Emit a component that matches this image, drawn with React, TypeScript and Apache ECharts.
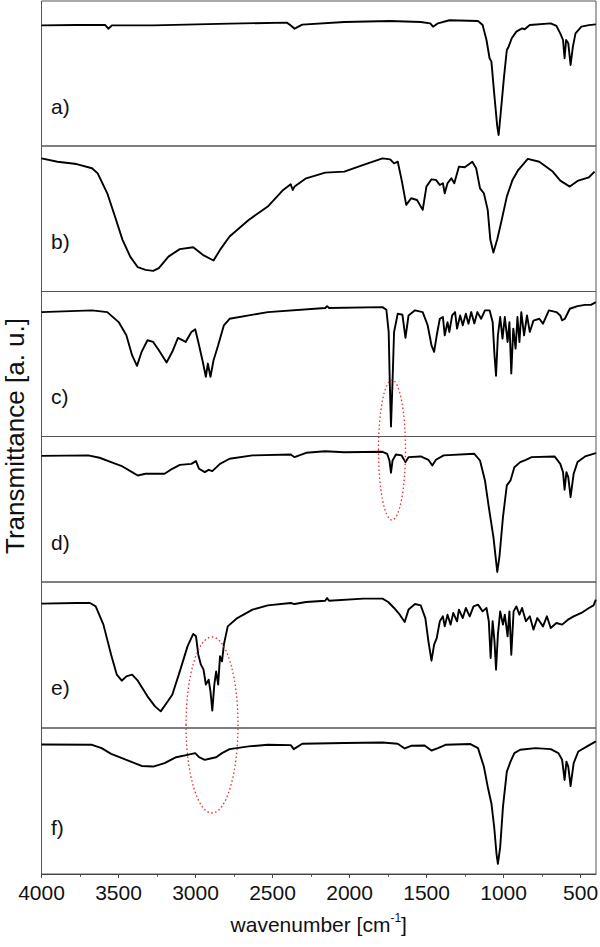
import React, { useEffect, useRef } from "react";
import * as echarts from "echarts";

// Tick labels of the shared wavenumber axis
const WN_TICKS = [4000, 3500, 3000, 2500, 2000, 1500, 1000, 500];
const WN_MINOR = [3750, 3250, 2750, 2250, 1750, 1250, 750];
const PANEL_LABELS = ["a)", "b)", "c)", "d)", "e)", "f)"];

// Spectra: [wavenumber (cm-1), transmittance (a.u., 0..100 of panel)]
const specA: [number, number][] = [
  [4000, 83.2], [3772, 83.4], [3586, 83.4], [3566, 80.9], [3543, 83.2], [3275, 83.2],
  [2779, 84.4], [2407, 85.1], [2377, 82.8], [2357, 80.9], [2307, 83.7], [2034, 85.5],
  [1736, 86.2], [1538, 85.5], [1476, 84.6], [1458, 82.3], [1426, 84.6], [1352, 86.7],
  [1166, 86.2], [1136, 83.4], [1111, 73.1], [1091, 60.5], [1079, 58.2], [1061, 36.3],
  [1041, 13.3], [1032, 7.6], [1017, 24.8], [997, 47.8], [979, 66.2], [967, 68.5],
  [947, 74.3], [917, 78.9], [880, 81.1], [863, 80.5], [830, 83.4], [694, 84.6],
  [657, 82.8], [632, 77.7], [614, 73.1], [604, 60.5], [594, 73.1], [580, 70.8],
  [565, 55.9], [550, 68.5], [533, 77.7], [495, 82.3], [446, 83.4], [401, 83.9],
];

const specB: [number, number][] = [
  [4000, 91.5], [3896, 89.2], [3772, 87.6], [3672, 84.7], [3635, 81.2], [3573, 67.5],
  [3523, 51.5], [3474, 35.5], [3424, 24.0], [3375, 16.7], [3325, 14.9], [3275, 14.2],
  [3238, 16.0], [3176, 24.0], [3102, 29.1], [3015, 30.4], [2953, 25.2], [2883, 21.3],
  [2841, 28.6], [2779, 37.8], [2655, 49.2], [2531, 58.4], [2431, 69.8], [2382, 73.7],
  [2369, 69.8], [2357, 72.1], [2282, 77.8], [2158, 81.7], [2034, 82.4], [1910, 87.0],
  [1786, 91.5], [1736, 90.8], [1711, 88.1], [1687, 89.2], [1662, 76.7], [1632, 59.5],
  [1600, 64.1], [1562, 62.9], [1525, 56.1], [1501, 72.1], [1468, 77.1], [1439, 76.7],
  [1414, 73.2], [1394, 74.4], [1382, 67.5], [1364, 74.4], [1339, 77.8], [1320, 74.4],
  [1290, 85.8], [1252, 85.4], [1203, 89.2], [1178, 84.7], [1153, 70.9], [1128, 67.5],
  [1103, 56.1], [1086, 35.5], [1066, 26.8], [1041, 35.9], [1017, 46.9], [979, 65.2],
  [942, 76.7], [905, 83.5], [843, 91.1], [768, 89.2], [681, 82.4], [632, 76.2],
  [570, 72.1], [520, 76.0], [446, 78.5], [409, 82.4],
];

const specC: [number, number][] = [
  [4000, 85.8], [3672, 87.0], [3573, 85.8], [3499, 78.9], [3449, 69.8], [3412, 56.1],
  [3380, 48.7], [3350, 58.4], [3312, 66.4], [3275, 65.2], [3238, 59.5], [3188, 51.0],
  [3151, 58.4], [3114, 68.0], [3064, 65.2], [3027, 72.1], [3002, 73.9], [2982, 65.2],
  [2953, 51.5], [2933, 41.2], [2920, 50.3], [2903, 41.2], [2883, 52.6], [2853, 62.9],
  [2816, 76.7], [2779, 81.2], [2531, 85.8], [2158, 88.6], [2146, 89.9], [2133, 88.6],
  [1786, 89.2], [1761, 87.4], [1746, 72.1], [1739, 37.8], [1731, 6.9], [1721, 37.8],
  [1711, 72.1], [1687, 84.7], [1657, 84.0], [1637, 68.0], [1617, 83.5], [1575, 87.0],
  [1525, 85.8], [1493, 76.7], [1468, 62.9], [1451, 58.4], [1434, 69.8], [1414, 81.2],
  [1394, 82.4], [1382, 69.8], [1364, 78.9], [1352, 72.1], [1334, 83.5], [1315, 85.8],
  [1302, 74.4], [1282, 83.5], [1265, 76.7], [1245, 84.7], [1228, 77.8], [1210, 85.8],
  [1190, 78.0], [1170, 85.8], [1146, 81.2], [1121, 87.0], [1091, 87.0], [1071, 78.9],
  [1059, 56.1], [1049, 41.9], [1037, 69.8], [1022, 82.4], [1007, 67.5], [992, 82.4],
  [974, 65.2], [962, 78.9], [950, 43.5], [937, 74.4], [922, 60.6], [910, 82.4],
  [897, 65.2], [885, 85.8], [867, 69.8], [848, 83.5], [830, 72.1], [806, 79.9],
  [768, 81.2], [744, 77.8], [706, 87.0], [657, 85.8], [632, 83.5], [620, 80.1],
  [602, 81.2], [570, 88.1], [520, 89.9], [471, 90.8], [433, 90.8], [401, 92.7],
];

const specD: [number, number][] = [
  [4000, 86.7], [3697, 87.0], [3623, 85.4], [3548, 82.4], [3474, 79.4], [3412, 75.5],
  [3375, 73.2], [3325, 74.4], [3201, 74.4], [3151, 77.8], [3102, 80.5], [3027, 81.2],
  [2997, 83.1], [2977, 77.8], [2940, 75.5], [2915, 77.1], [2891, 76.2], [2841, 81.2],
  [2779, 84.7], [2630, 87.0], [2382, 87.6], [2357, 85.8], [2282, 88.8], [2158, 89.9],
  [2034, 89.2], [1786, 89.5], [1756, 88.1], [1741, 83.5], [1731, 75.1], [1721, 83.5],
  [1699, 87.6], [1662, 87.0], [1637, 82.4], [1617, 85.8], [1538, 86.3], [1488, 84.0],
  [1463, 80.1], [1439, 84.0], [1389, 87.0], [1190, 88.1], [1153, 83.5], [1121, 69.8],
  [1096, 51.5], [1066, 30.9], [1041, 6.9], [1027, 17.2], [1004, 44.6], [979, 66.4],
  [955, 69.8], [930, 78.9], [892, 82.4], [855, 84.0], [818, 85.8], [669, 86.3],
  [632, 81.2], [614, 75.5], [604, 63.4], [592, 75.5], [580, 72.1], [565, 58.4],
  [545, 74.4], [520, 82.4], [471, 86.3], [401, 88.6],
];

const specE: [number, number][] = [
  [4000, 85.2], [3772, 85.6], [3685, 85.6], [3648, 83.3], [3598, 70.8], [3548, 50.2],
  [3511, 36.5], [3479, 32.4], [3449, 35.4], [3412, 36.5], [3375, 32.4], [3312, 21.7],
  [3263, 14.8], [3226, 11.4], [3188, 17.1], [3151, 22.8], [3102, 38.8], [3052, 55.9],
  [3015, 64.4], [2997, 62.8], [2982, 50.2], [2965, 43.4], [2948, 40.0], [2933, 29.7],
  [2915, 33.1], [2903, 25.1], [2891, 11.9], [2878, 29.7], [2866, 38.8], [2853, 29.7],
  [2841, 49.1], [2828, 45.7], [2816, 57.1], [2791, 69.6], [2729, 75.3], [2630, 81.1],
  [2531, 84.0], [2382, 85.6], [2357, 84.9], [2282, 86.3], [2158, 87.2], [2146, 89.0],
  [2133, 87.2], [1910, 88.6], [1786, 88.6], [1749, 86.3], [1711, 82.2], [1674, 77.6],
  [1642, 72.6], [1617, 81.1], [1575, 84.9], [1538, 84.0], [1508, 75.3], [1488, 59.4],
  [1468, 46.1], [1451, 57.1], [1434, 61.6], [1414, 73.1], [1394, 76.5], [1382, 69.6],
  [1364, 77.6], [1344, 70.8], [1327, 78.8], [1302, 73.1], [1290, 81.1], [1265, 75.3],
  [1245, 82.2], [1220, 76.5], [1195, 83.3], [1166, 84.5], [1136, 79.9], [1111, 82.2],
  [1096, 73.1], [1084, 47.9], [1071, 73.1], [1059, 59.4], [1049, 40.0], [1037, 63.9],
  [1022, 79.9], [1004, 70.8], [992, 77.6], [974, 62.8], [962, 79.9], [950, 50.2],
  [935, 79.9], [917, 83.3], [897, 77.6], [880, 82.2], [855, 73.1], [830, 76.5],
  [806, 67.4], [781, 75.3], [744, 69.6], [719, 76.5], [694, 68.5], [657, 71.9],
  [620, 70.8], [582, 74.2], [545, 76.5], [495, 78.8], [446, 82.2], [416, 84.0],
  [401, 87.9],
];

const specF: [number, number][] = [
  [4000, 88.7], [3672, 88.5], [3610, 86.2], [3548, 82.3], [3449, 78.2], [3350, 74.0],
  [3275, 73.6], [3201, 75.9], [3126, 80.0], [3052, 81.6], [3002, 82.8], [2977, 80.0],
  [2940, 78.2], [2903, 79.1], [2866, 80.0], [2828, 82.8], [2779, 85.5], [2655, 87.4],
  [2531, 88.5], [2382, 88.3], [2362, 85.5], [2307, 89.2], [2034, 89.7], [1786, 90.1],
  [1687, 89.2], [1642, 86.0], [1600, 87.8], [1513, 88.0], [1468, 84.6], [1426, 86.2],
  [1377, 88.5], [1215, 89.0], [1166, 86.2], [1128, 73.6], [1103, 59.8], [1079, 48.3],
  [1061, 32.2], [1046, 13.8], [1037, 6.9], [1022, 18.4], [1004, 46.0], [979, 70.1],
  [955, 77.0], [930, 82.8], [892, 85.1], [793, 86.2], [694, 85.5], [644, 82.8],
  [620, 78.2], [604, 64.4], [592, 77.0], [580, 73.6], [565, 60.2], [545, 75.9],
  [515, 83.9], [458, 87.4], [401, 90.8],
];

const SPECTRA = [specA, specB, specC, specD, specE, specF];

export default function App() {
  const ref = useRef<HTMLDivElement>(null);

  useEffect(() => {
    if (!ref.current) return;
    const chart = echarts.init(ref.current, undefined, { renderer: "svg" });

    const FONT = "'Liberation Sans', Arial, Helvetica, sans-serif";
    const left = 41.5;
    const width = 554.5;
    const panels = [
      { top: 1, height: 145 },
      { top: 146, height: 145.5 },
      { top: 291.5, height: 145 },
      { top: 436.5, height: 145.5 },
      { top: 582, height: 146 },
      { top: 728, height: 146 },
    ];

    const grid = panels.map((p) => ({
      left,
      width,
      top: p.top,
      height: p.height,
      show: true,
      borderColor: "#555",
      borderWidth: 1,
      backgroundColor: "transparent",
      containLabel: false,
      outerBoundsMode: "none",
    }));

    const xAxis: any[] = panels.map((_, i) => {
      const isBottom = i === panels.length - 1;
      return {
        type: "value",
        gridIndex: i,
        min: 400,
        max: 4000,
        inverse: true,
        show: isBottom,
        splitLine: { show: false },
        axisLine: { show: isBottom, lineStyle: { color: "#444", width: 1 } },
        axisTick: {
          show: isBottom,
          inside: false,
          length: 4,
          customValues: WN_TICKS,
          lineStyle: { color: "#444", width: 1 },
        },
        axisLabel: {
          show: isBottom,
          customValues: WN_TICKS,
          formatter: (v: number) => String(v),
          fontSize: 21,
          fontFamily: FONT,
          color: "#111",
          margin: 8,
        },
        name: isBottom ? "{t|wavenumber [cm}{s|-1}{t|]}" : "",
        nameLocation: "middle",
        nameGap: 38,
        nameTextStyle: {
          rich: {
            t: { fontSize: 21, fontFamily: FONT, color: "#111", lineHeight: 24 },
            s: { fontSize: 12, fontFamily: FONT, color: "#111", verticalAlign: "top", lineHeight: 24, padding: [0, 0, 10, 0] },
          },
        },
      };
    });
    // minor ticks on the bottom axis
    xAxis.push({
      type: "value",
      gridIndex: 5,
      min: 400,
      max: 4000,
      inverse: true,
      position: "bottom",
      splitLine: { show: false },
      axisLine: { show: false },
      axisTick: {
        show: true,
        inside: false,
        length: 2.7,
        customValues: WN_MINOR,
        lineStyle: { color: "#444", width: 1 },
      },
      axisLabel: { show: false },
    });

    const yAxis = panels.map((_, i) => ({
      type: "value",
      gridIndex: i,
      min: 0,
      max: 100,
      show: false,
      splitLine: { show: false },
    }));

    const series = SPECTRA.map((data, i) => ({
      type: "line",
      xAxisIndex: i,
      yAxisIndex: i,
      data,
      showSymbol: false,
      symbol: "none",
      smooth: false,
      lineStyle: { color: "#000", width: 1.9, join: "round" },
      silent: true,
    }));

    const labelY = [106, 241, 396, 542.5, 687.5, 827];
    const graphic: any[] = PANEL_LABELS.map((t, i) => ({
      type: "text",
      x: 51,
      y: labelY[i],
      style: {
        text: t,
        fontSize: 21,
        fontFamily: FONT,
        fill: "#111",
        verticalAlign: "middle",
        align: "left",
      },
      z: 10,
    }));
    graphic.push({
      type: "text",
      x: 14.5,
      y: 436,
      rotation: Math.PI / 2,
      style: {
        text: "Transmittance [a. u.]",
        fontSize: 26,
        fontFamily: FONT,
        fill: "#111",
        align: "center",
        verticalAlign: "middle",
      },
      z: 10,
    });
    graphic.push({
      type: "ellipse",
      shape: { cx: 392, cy: 450, rx: 13.5, ry: 70 },
      style: { fill: "none", stroke: "#ee2a2a", lineWidth: 1.3, lineDash: [1.5, 2.5] },
      z: 20,
    });
    graphic.push({
      type: "ellipse",
      shape: { cx: 212, cy: 725, rx: 26, ry: 88 },
      style: { fill: "none", stroke: "#ee2a2a", lineWidth: 1.3, lineDash: [1.5, 2.5] },
      z: 20,
    });

    chart.setOption({
      animation: false,
      backgroundColor: "#fff",
      grid,
      xAxis,
      yAxis,
      series,
      graphic,
    });

    return () => chart.dispose();
  }, []);

  return (
    <div
      ref={ref}
      style={{ position: "fixed", left: 0, top: 0, width: 600, height: 947 }}
    />
  );
}
